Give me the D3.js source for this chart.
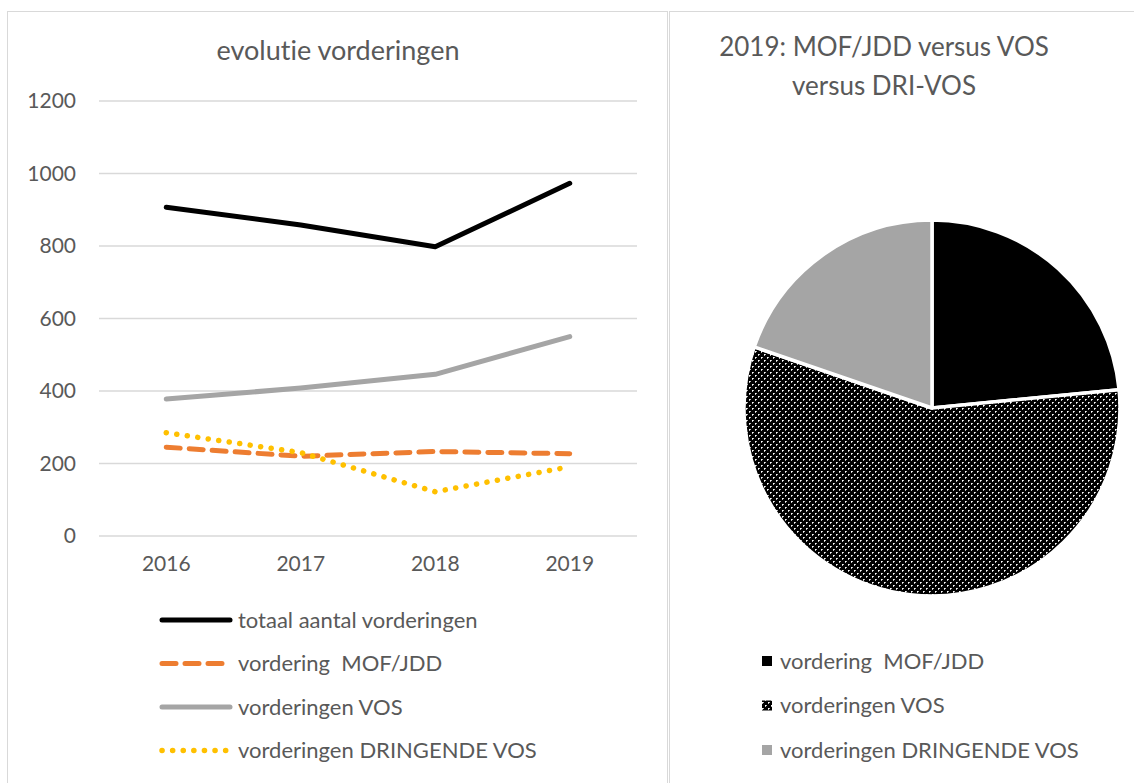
<!DOCTYPE html>
<html>
<head>
<meta charset="utf-8">
<script src="https://cdn.jsdelivr.net/npm/d3@7"></script>
<style>
  body { margin: 0; background: #fff; }
  text { font-family: Lato, "Open Sans", sans-serif; fill: #595959; white-space: pre; font-variant-ligatures: none; }
</style>
</head>
<body>
<div class="chart"></div>
<script>
// data
let years = ['2016', '2017', '2018', '2019']
let totaal = [907, 858, 798, 973]
let mof = [245, 220, 233, 227]
let vos = [378, 408, 446, 550]
let dringend = [285, 230, 122, 191]
let yTicks = [0, 200, 400, 600, 800, 1000, 1200]

let pieLabels = ['vordering  MOF/JDD', 'vorderingen VOS', 'vorderingen DRINGENDE VOS']
let pieValues = [227, 550, 191]

let W = 1134, H = 783

let svg = d3.select('.chart').append('svg')
    .attr('width', W)
    .attr('height', H)

// checker pattern for the VOS slice
let defs = svg.append('defs')
let pat = defs.append('pattern')
    .attr('id', 'checker')
    .attr('width', 6).attr('height', 6)
    .attr('patternUnits', 'userSpaceOnUse')
pat.append('rect').attr('width', 6).attr('height', 6).attr('fill', '#000')
pat.append('rect').attr('x', 0).attr('y', 0).attr('width', 1).attr('height', 1).attr('fill', '#fff')
pat.append('rect').attr('x', 3).attr('y', 3).attr('width', 1).attr('height', 1).attr('fill', '#fff')
pat.append('rect').attr('x', 1).attr('y', 0).attr('width', 1).attr('height', 1).attr('fill', '#bbb')
pat.append('rect').attr('x', 0).attr('y', 1).attr('width', 1).attr('height', 1).attr('fill', '#bbb')
pat.append('rect').attr('x', 4).attr('y', 3).attr('width', 1).attr('height', 1).attr('fill', '#bbb')
pat.append('rect').attr('x', 3).attr('y', 4).attr('width', 1).attr('height', 1).attr('fill', '#bbb')

// chart frames
svg.append('rect').attr('x', 7.5).attr('y', 11.5).attr('width', 660).attr('height', 800)
    .attr('fill', 'none').attr('stroke', '#d9d9d9')
svg.append('rect').attr('x', 669.5).attr('y', 11.5).attr('width', 480).attr('height', 800)
    .attr('fill', 'none').attr('stroke', '#d9d9d9')

// ---------- line chart ----------
let x = d3.scaleBand().domain(years).range([99, 637])
let y = d3.scaleLinear().domain([0, 1200]).range([536, 101])

svg.append('text')
    .attr('x', 338).attr('y', 60)
    .attr('text-anchor', 'middle')
    .style('font-size', '27px')
    .text('evolutie vorderingen')

let grid = svg.append('g')
grid.selectAll('line').data(yTicks).enter().append('line')
    .attr('x1', 99).attr('x2', 637)
    .attr('y1', d => y(d)).attr('y2', d => y(d))
    .attr('stroke', '#d9d9d9').attr('stroke-width', 1.5)

let yAxis = svg.append('g')
    .attr('transform', 'translate(76,0)')
    .call(d3.axisLeft(y).tickValues(yTicks).tickFormat(d3.format('d')).tickSize(0).tickPadding(0))
yAxis.select('.domain').remove()
yAxis.selectAll('text').style('font-size', '21px').attr('fill', '#595959')

let xAxis = svg.append('g')
    .attr('transform', 'translate(0,556)')
    .call(d3.axisBottom(x).tickSize(0).tickPadding(0))
xAxis.select('.domain').remove()
xAxis.selectAll('text').style('font-size', '21px').attr('fill', '#595959').attr('dy', '0.71em')

let series = [
    { name: 'totaal aantal vorderingen', values: totaal, color: '#000000', dash: null, w: 5 },
    { name: 'vordering  MOF/JDD', values: mof, color: '#ed7d31', dash: '14 9', w: 5 },
    { name: 'vorderingen VOS', values: vos, color: '#a5a5a5', dash: null, w: 5 },
    { name: 'vorderingen DRINGENDE VOS', values: dringend, color: '#ffc000', dash: '0.1 10.5', w: 5.5 }
]

let line = d3.line()
    .x((d, i) => x(years[i]) + x.bandwidth() / 2)
    .y(d => y(d))

let paths = svg.append('g')
for (let s of series) {
    paths.append('path')
        .datum(s.values)
        .attr('d', line)
        .attr('fill', 'none')
        .attr('stroke', s.color)
        .attr('stroke-width', s.w)
        .attr('stroke-linecap', 'round')
        .attr('stroke-linejoin', 'round')
        .attr('stroke-dasharray', s.dash)
}

// legend of line chart
let leg = svg.append('g')
series.forEach((s, i) => {
    let ly = 620 + i * 43.5
    leg.append('line')
        .attr('x1', 162).attr('x2', 230)
        .attr('y1', ly).attr('y2', ly)
        .attr('stroke', s.color)
        .attr('stroke-width', s.w)
        .attr('stroke-linecap', 'round')
        .attr('stroke-dasharray', s.dash)
    leg.append('text')
        .attr('x', 238).attr('y', ly)
        .attr('dy', '0.35em')
        .style('font-size', '22px')
        .text(s.name)
})

// ---------- pie chart ----------
svg.append('text')
    .attr('x', 884).attr('y', 56)
    .attr('text-anchor', 'middle')
    .style('font-size', '26px')
    .text('2019: MOF/JDD versus VOS')
svg.append('text')
    .attr('x', 884).attr('y', 95)
    .attr('text-anchor', 'middle')
    .style('font-size', '26px')
    .text('versus DRI-VOS')

let fills = ['#000000', 'url(#checker)', '#a5a5a5']
let pie = d3.pie().sort(null)
let arc = d3.arc().innerRadius(0).outerRadius(188)

let pg = svg.append('g').attr('transform', 'translate(932,408)')
pg.selectAll('path').data(pie(pieValues)).enter().append('path')
    .attr('d', arc)
    .attr('fill', (d, i) => fills[i])
    .attr('stroke', '#fff')
    .attr('stroke-width', 3.5)
    .attr('stroke-linejoin', 'round')

let pleg = svg.append('g')
pieLabels.forEach((name, i) => {
    let ly = 661 + i * 44.5
    pleg.append('rect')
        .attr('x', 762).attr('y', ly - 5)
        .attr('width', 10).attr('height', 10)
        .attr('fill', fills[i])
    pleg.append('text')
        .attr('x', 780).attr('y', ly)
        .attr('dy', '0.35em')
        .style('font-size', '22px')
        .text(name)
})
</script>
</body>
</html>
